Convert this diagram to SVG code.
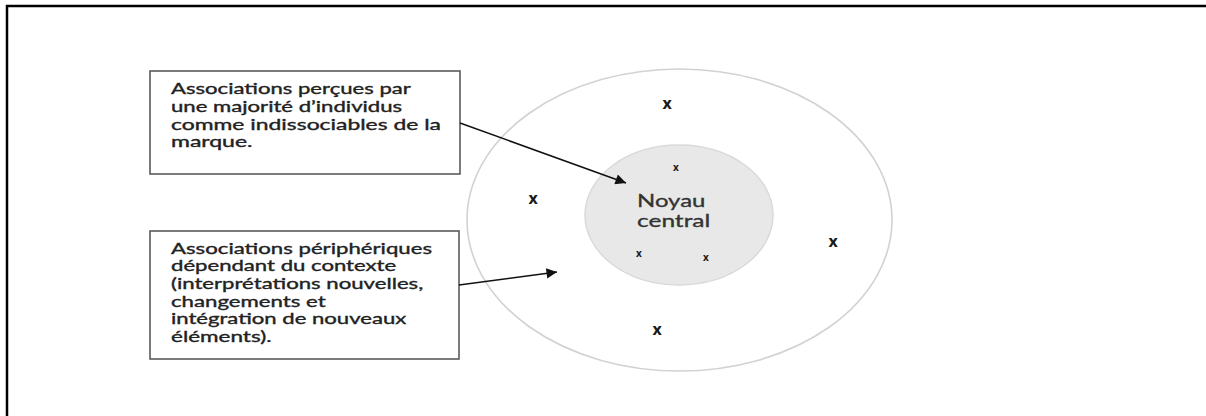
<svg xmlns="http://www.w3.org/2000/svg" width="1206" height="416" viewBox="0 0 1206 416">
  <defs>
    <style>
      .lbl { font-family: Lato, "Open Sans", "Liberation Sans", sans-serif; font-size: 14.7px; fill: #222222; stroke: #222222; stroke-width: 0.35px; }
      .core { font-family: Lato, "Open Sans", "Liberation Sans", sans-serif; font-size: 16.5px; fill: #333333; stroke: #333333; stroke-width: 0.3px; }
      .mk { font-family: "Open Sans", "Liberation Sans", sans-serif; font-weight: bold; fill: #1a1a1a; text-anchor: middle; }
      .big { font-size: 16px; }
      .small { font-size: 10px; }
      .box { fill: #ffffff; stroke: #5a5a5a; stroke-width: 1.6; }
      .conn { stroke: #111111; stroke-width: 1.5; fill: none; marker-end: url(#arrow); }
    </style>
    <marker id="arrow" viewBox="0 0 10 10" refX="10" refY="5" markerWidth="11" markerHeight="7" markerUnits="strokeWidth" orient="auto">
      <path d="M0,0 L10,5 L0,10 z" fill="#111111"/>
    </marker>
  </defs>
  <rect x="0" y="0" width="1206" height="416" fill="#ffffff"/>
  <path d="M7,416 V6 H1206" fill="none" stroke="#000000" stroke-width="2.5"/>

  <g id="outer-ring">
    <ellipse cx="679.5" cy="220" rx="212.5" ry="151" fill="#ffffff" stroke="#d2d2d2" stroke-width="1.6"/>
    <text class="mk big" x="667" y="108.5">x</text>
    <text class="mk big" x="533" y="203.5">x</text>
    <text class="mk big" x="833" y="246.5">x</text>
    <text class="mk big" x="657" y="334.5">x</text>
  </g>

  <g id="noyau-central">
    <ellipse cx="679" cy="215" rx="94" ry="70" fill="#e8e8e8" stroke="#d9d9d9" stroke-width="1.5"/>
    <text class="core" x="637" y="207" textLength="68.4" lengthAdjust="spacingAndGlyphs">Noyau</text>
    <text class="core" x="637" y="227" textLength="73.3" lengthAdjust="spacingAndGlyphs">central</text>
    <text class="mk small" x="676" y="170.7">x</text>
    <text class="mk small" x="639" y="256.7">x</text>
    <text class="mk small" x="706" y="260.7">x</text>
  </g>

  <g id="box-noyau">
    <rect class="box" x="150" y="71" width="310" height="103"/>
    <text class="lbl" x="171" y="94" textLength="239.8" lengthAdjust="spacingAndGlyphs">Associations perçues par</text>
    <text class="lbl" x="171" y="111.8" textLength="231.2" lengthAdjust="spacingAndGlyphs">une majorité d’individus</text>
    <text class="lbl" x="171" y="129.6" textLength="270" lengthAdjust="spacingAndGlyphs">comme indissociables de la</text>
    <text class="lbl" x="171" y="147.4" textLength="81.5" lengthAdjust="spacingAndGlyphs">marque.</text>
  </g>

  <g id="box-peripherie">
    <rect class="box" x="150" y="231" width="309" height="128"/>
    <text class="lbl" x="171" y="253.5" textLength="261" lengthAdjust="spacingAndGlyphs">Associations périphériques</text>
    <text class="lbl" x="171" y="271.2" textLength="225.1" lengthAdjust="spacingAndGlyphs">dépendant du contexte</text>
    <text class="lbl" x="171" y="288.9" textLength="252.2" lengthAdjust="spacingAndGlyphs">(interprétations nouvelles,</text>
    <text class="lbl" x="171" y="306.6" textLength="154.7" lengthAdjust="spacingAndGlyphs">changements et</text>
    <text class="lbl" x="171" y="324.3" textLength="235.2" lengthAdjust="spacingAndGlyphs">intégration de nouveaux</text>
    <text class="lbl" x="171" y="342" textLength="100.5" lengthAdjust="spacingAndGlyphs">éléments).</text>
  </g>

  <g id="connectors">
    <line class="conn" x1="460" y1="123" x2="626" y2="183"/>
    <line class="conn" x1="459" y1="285" x2="557" y2="272"/>
  </g>
</svg>
